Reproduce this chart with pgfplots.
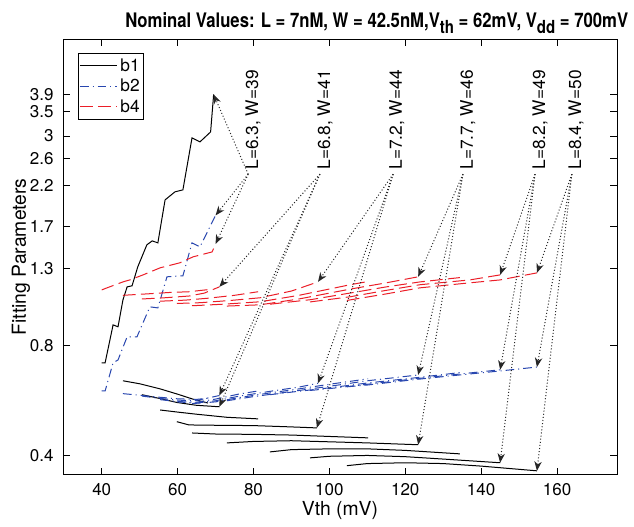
\documentclass[border=0pt]{standalone}
\usepackage{fontspec}
\setmainfont{TeX Gyre Heros}
\usepackage{graphicx}
\usepackage{pgfplots}
\pgfplotsset{compat=1.18}
\usetikzlibrary{arrows.meta}
\definecolor{bblue}{RGB}{40,70,175}
\definecolor{rred}{RGB}{235,30,40}
\tikzset{
  bone/.style={black, solid, line width=0.75pt},
  btwo/.style={bblue, line width=0.75pt, dash pattern=on 6.5pt off 3pt on 0.8pt off 3pt},
  bfour/.style={rred, line width=0.75pt, dash pattern=on 9.5pt off 4pt},
  ann/.style={draw=black!85, line width=0.75pt, dash pattern=on 0.75pt off 1.6pt,
    -{Stealth[length=7pt,width=5.5pt,inset=2.2pt]}},
  lab/.style={rotate=90, anchor=west, inner sep=0pt, font=\fontsize{13}{15}\selectfont}
}
\begin{document}
\begin{tikzpicture}
\begin{axis}[
  at={(0,0)}, anchor=south west,
  scale only axis,
  width=415.5pt, height=326.25pt,
  xmin=29.8, xmax=175.8,
  ymode=log, ymin=0.356, ymax=5.52,
  xtick={40,60,...,160},
  ytick={0.4,0.8,1.3,1.7,2.2,2.6,3,3.5,3.9},
  yticklabels={0.4,0.8,1.3,1.7,2.2,2.6,3,3.5,3.9},
  minor ytick={},
  tick align=inside,
  major tick length=5pt,
  axis line style={line width=0.6pt},
  every tick/.style={black, line width=0.6pt},
  /pgf/number format/assume math mode=true,
  ticklabel style={font=\fontsize{12.75}{15}\selectfont},
  yticklabel style={xshift=-3.6pt},
  xticklabel style={yshift=-3.2pt},
  xlabel={Vth (mV)},
  ylabel={Fitting Parameters},
  label style={font=\fontsize{14.5}{17}\selectfont},
  xlabel style={at={(axis description cs:0.5,-0.082)}, anchor=center},
  ylabel style={at={(axis description cs:-0.0758,0.5)}, anchor=center},
  clip=false,
  legend style={at={(axis description cs:0.0265,0.9694)}, anchor=north west,
    draw=black, line width=0.6pt, font=\fontsize{13}{15}\selectfont,
    inner xsep=1pt, inner ysep=2pt, row sep=0.5pt, cells={anchor=west}},
  legend image code/.code={\draw[#1] (0pt,0pt) -- (28pt,0pt);},
]
% ---- configuration 1 (L=6.3, W=39)
\addplot[bone] coordinates {(40,0.719) (40.9,0.719) (43.0,0.913) (44.3,0.902) (45.6,1.069) (46.7,1.16) (48.0,1.168) (49.5,1.316) (51.9,1.512) (53.3,1.55) (54.8,1.531) (56.7,2.007) (59.3,2.111) (61.4,2.138) (63.8,2.967) (65.9,2.893) (68.7,3.08) (69.5,3.9)};
\addlegendentry{b1}
\addplot[btwo] coordinates {(40,0.602) (40.9,0.602) (43.0,0.719) (44.3,0.732) (46.7,0.847) (49.3,0.847) (52.7,1.023) (54.8,1.016) (57.2,1.236) (61.4,1.244) (63.8,1.531) (65.9,1.493) (70,1.82)};
\addlegendentry{b2}
\addplot[bfour] coordinates {(40,1.138) (41.4,1.153) (45.6,1.197) (47.5,1.213) (50.9,1.251) (55.4,1.308) (60.6,1.35) (64.1,1.402) (69.1,1.446) (70,1.52)};
\addlegendentry{b4}
% ---- b1 of the other configurations
\addplot[bone, forget plot] coordinates {(45.6,0.642) (50,0.63) (55.4,0.61) (60,0.59) (64,0.572) (68,0.558)};
\addplot[bone, forget plot] coordinates {(50.6,0.588) (55,0.575) (59.8,0.56) (65,0.55) (71,0.545)};
\addplot[bone, forget plot] coordinates {(55.4,0.534) (60,0.527) (65,0.52) (73,0.51) (81.2,0.505)};
\addplot[bone, forget plot] coordinates {(59.8,0.496) (63,0.486) (70,0.485) (80,0.484) (90,0.48) (96.7,0.477)};
\addplot[bone, forget plot] coordinates {(63.8,0.462) (70,0.459) (80,0.458) (90,0.456) (100,0.452) (110.2,0.448)};
\addplot[bone, forget plot] coordinates {(73,0.434) (80,0.438) (90,0.44) (100,0.437) (110,0.434) (123.4,0.429)};
\addplot[bone, forget plot] coordinates {(84.3,0.41) (90,0.416) (100,0.418) (110,0.418) (120,0.414) (134.4,0.405)};
\addplot[bone, forget plot] coordinates {(94.9,0.395) (100,0.399) (110,0.401) (120,0.398) (130,0.392) (145,0.383)};
\addplot[bone, forget plot] coordinates {(104.6,0.376) (110,0.381) (120,0.383) (130,0.381) (140,0.375) (154.7,0.364)};
% ---- b2
\addplot[btwo, forget plot] coordinates {(45.6,0.592) (50,0.586) (55,0.579) (60,0.573) (65,0.571) (68,0.575)};
\addplot[btwo, forget plot] coordinates {(50.6,0.583) (55,0.575) (60,0.568) (65,0.567) (71,0.585)};
\addplot[btwo, forget plot] coordinates {(55.4,0.570) (60,0.563) (65,0.561) (70,0.572) (76,0.590) (81.2,0.602)};
\addplot[btwo, forget plot] coordinates {(59.8,0.562) (65,0.558) (70,0.566) (76,0.582) (85,0.602) (92,0.617) (97,0.632)};
\addplot[btwo, forget plot] coordinates {(63.8,0.556) (70,0.562) (76,0.577) (85,0.596) (92,0.610) (100,0.628) (110.2,0.650)};
\addplot[btwo, forget plot] coordinates {(73,0.566) (80,0.581) (90,0.600) (100,0.620) (110,0.642) (123.4,0.666)};
\addplot[btwo, forget plot] coordinates {(84.3,0.588) (92,0.601) (100,0.614) (110,0.633) (122,0.653) (134.4,0.676)};
\addplot[btwo, forget plot] coordinates {(94.9,0.604) (100,0.611) (110,0.628) (122,0.649) (135,0.671) (145,0.688)};
\addplot[btwo, forget plot] coordinates {(104.6,0.618) (110,0.625) (122,0.646) (135,0.667) (145,0.683) (154.7,0.700)};
% ---- b4
\addplot[bfour, forget plot] coordinates {(45.6,1.100) (52,1.110) (58,1.120) (63,1.125) (68,1.140)};
\addplot[bfour, forget plot] coordinates {(50.6,1.075) (56,1.082) (63,1.095) (67,1.115) (71,1.160)};
\addplot[bfour, forget plot] coordinates {(55.4,1.060) (62,1.067) (68,1.080) (75,1.100) (81.2,1.125)};
\addplot[bfour, forget plot] coordinates {(59.8,1.045) (66,1.050) (74,1.065) (81.7,1.083) (90,1.130) (97,1.197)};
\addplot[bfour, forget plot] coordinates {(63.8,1.030) (72,1.040) (81.7,1.056) (92,1.100) (105.5,1.176) (110.2,1.200)};
\addplot[bfour, forget plot] coordinates {(73,1.028) (81.7,1.036) (92,1.075) (105.5,1.144) (115,1.190) (123.4,1.236)};
\addplot[bfour, forget plot] coordinates {(84.3,1.040) (95,1.070) (105.5,1.116) (115,1.160) (123.9,1.197) (134.4,1.230)};
\addplot[bfour, forget plot] coordinates {(94.9,1.055) (105.5,1.090) (115,1.135) (123.9,1.176) (137,1.212) (145,1.251)};
\addplot[bfour, forget plot] coordinates {(104.6,1.065) (115,1.110) (123.9,1.153) (137,1.190) (145,1.212) (154.7,1.267)};
% ---- annotations
\node[lab] at (axis cs:79.9,2.425) {L=6.3, W=39};
\node[lab] at (axis cs:98.85,2.425) {L=6.8, W=41};
\node[lab] at (axis cs:117.8,2.425) {L=7.2, W=44};
\node[lab] at (axis cs:136.5,2.425) {L=7.7, W=46};
\node[lab] at (axis cs:155.5,2.425) {L=8.2, W=49};
\node[lab] at (axis cs:165.0,2.425) {L=8.4, W=50};
\draw[ann] (axis cs:78.6,2.36) -- (axis cs:69.5,3.9);
\draw[ann] (axis cs:78.6,2.36) -- (axis cs:70,1.82);
\draw[ann] (axis cs:78.6,2.36) -- (axis cs:70,1.52);
\draw[ann] (axis cs:97.5,2.36) -- (axis cs:71,1.16);
\draw[ann] (axis cs:97.5,2.36) -- (axis cs:71,0.585);
\draw[ann] (axis cs:97.5,2.36) -- (axis cs:71,0.545);
\draw[ann] (axis cs:116.8,2.36) -- (axis cs:97,1.197);
\draw[ann] (axis cs:116.8,2.36) -- (axis cs:97,0.632);
\draw[ann] (axis cs:116.8,2.36) -- (axis cs:96.7,0.477);
\draw[ann] (axis cs:135.2,2.36) -- (axis cs:123.4,1.236);
\draw[ann] (axis cs:135.2,2.36) -- (axis cs:123.4,0.666);
\draw[ann] (axis cs:135.2,2.36) -- (axis cs:123.4,0.429);
\draw[ann] (axis cs:154.2,2.36) -- (axis cs:145,1.251);
\draw[ann] (axis cs:154.2,2.36) -- (axis cs:145,0.688);
\draw[ann] (axis cs:154.2,2.36) -- (axis cs:145,0.383);
\draw[ann] (axis cs:163.9,2.36) -- (axis cs:154.7,1.267);
\draw[ann] (axis cs:163.9,2.36) -- (axis cs:154.7,0.700);
\draw[ann] (axis cs:163.9,2.36) -- (axis cs:154.7,0.364);
% ---- title
\node[anchor=base west, inner sep=0pt, font=\bfseries\fontsize{15}{18}\selectfont]
  at (rel axis cs:0.1119,1.0269)
  {\scalebox{0.835}[1]{Nominal Values: L = 7nM, W = 42.5nM,V\raisebox{-4.3pt}{\fontsize{13.5}{16}\selectfont th} = 62mV, V\raisebox{-4.3pt}{\fontsize{13.5}{16}\selectfont dd} = 700mV}};
\end{axis}
\pgfresetboundingbox
\path (-47.25pt,-38.8pt) rectangle (428.25pt,355.75pt);
\end{tikzpicture}
\end{document}
